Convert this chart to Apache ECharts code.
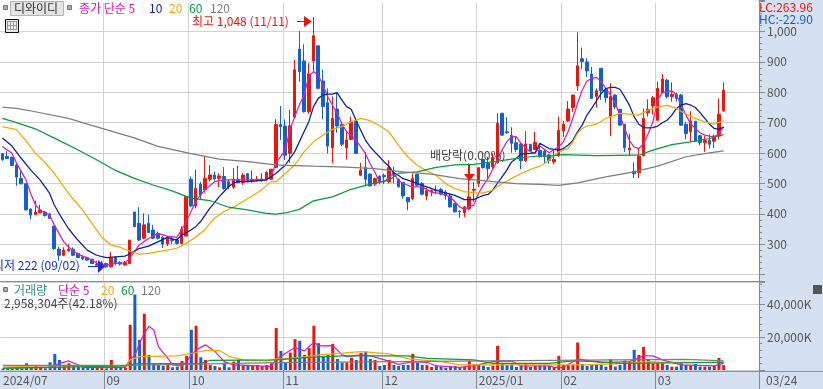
<!DOCTYPE html>
<html><head><meta charset="utf-8">
<style>html,body{margin:0;padding:0;background:#fff}#c{width:823px;height:389px}</style>
<script src="https://cdn.jsdelivr.net/npm/echarts@6/dist/echarts.min.js"></script>
</head><body><div id="c"></div>
<script>
const monthStarts = {0:'2024/07',22:'09',40:'10',60:'11',81:'12',101:'2025/01',119:'02',139:'03'};
const slots = 161;
const opens = [598,589,586,561,517,499,416,398,404,406,400,360,284,264,278,284,270,259,256,251,231,226,237,226,257,240,232,237,406,369,320,369,347,336,323,301,316,314,303,327,514,426,498,479,514,528,517,523,506,488,514,503,532,506,510,509,512,514,553,694,689,599,718,942,903,736,903,953,837,766,618,745,694,618,645,703,527,552,531,498,524,527,505,536,514,503,454,451,530,500,459,472,478,480,472,459,434,409,403,418,478,500,579,566,555,568,731,670,658,634,630,575,629,612,609,607,594,571,591,673,706,750,821,910,900,860,786,879,810,720,791,744,695,610,540,535,591,733,755,708,799,840,786,793,791,695,670,705,657,634,642,639,656,739];
const closes = [578,582,559,521,499,413,396,406,413,395,385,286,264,281,283,264,256,252,248,237,234,239,226,257,237,235,240,314,358,314,364,339,320,320,301,320,312,303,349,457,426,484,462,517,528,515,525,484,490,514,503,528,506,514,514,515,536,547,694,687,593,690,874,868,736,860,986,813,753,623,714,689,629,643,703,599,544,514,492,516,505,522,552,527,489,459,440,516,494,465,476,477,476,465,461,423,407,407,423,456,481,552,552,549,586,698,659,667,632,612,575,630,607,635,590,588,575,579,675,695,745,791,887,901,870,780,805,805,782,786,752,692,618,617,532,590,714,744,782,813,843,785,794,780,692,664,706,639,635,642,629,656,728,807];
const highs = [600,606,589,567,543,501,418,444,430,410,402,360,292,290,300,290,272,263,258,253,246,246,239,276,259,245,245,314,407,422,402,397,364,342,327,327,327,319,360,457,523,545,506,589,561,539,534,554,512,550,558,534,534,543,525,534,540,547,712,755,711,742,907,1002,958,896,1048,953,874,813,786,797,698,674,720,709,568,604,533,519,527,533,577,555,516,505,456,533,533,505,486,480,494,486,478,467,436,412,426,566,505,552,579,588,599,731,731,718,685,656,632,672,629,670,630,610,596,610,720,706,771,791,997,947,912,884,813,879,813,830,794,744,695,664,569,618,747,777,788,835,860,844,833,799,794,703,738,705,659,656,661,661,780,833];
const lows = [575,580,558,492,498,413,382,396,402,391,384,281,246,261,276,261,255,248,246,235,228,224,222,224,232,230,230,235,356,311,317,336,317,316,288,294,301,299,301,326,422,418,446,470,506,510,488,479,481,481,501,495,504,503,506,506,510,512,550,643,577,568,714,835,733,729,868,810,711,599,568,667,623,579,643,597,524,494,491,491,497,498,500,500,487,450,412,445,491,461,445,458,465,461,447,421,404,387,390,412,440,489,549,516,549,566,656,663,601,604,547,571,604,610,585,565,565,563,588,653,703,736,805,877,851,778,749,775,766,656,744,689,604,590,518,518,590,720,727,706,797,780,769,769,689,645,637,637,626,604,615,617,645,736];
const volumes = [810,810,810,1620,1020,4060,1620,3050,2030,1020,4670,9740,6090,3050,4060,3050,2030,1620,1420,1420,1220,1220,1020,6090,2030,1420,1220,27400,45680,18270,34100,9140,4060,3050,2440,4060,1620,2030,5480,8530,24360,26800,7710,6090,3050,2440,1620,4470,1620,5080,6090,3050,2440,3050,3050,2440,3050,4060,25380,11570,4470,10560,18680,17660,9140,13200,26800,16240,8120,9140,15830,6700,4470,4470,7510,6090,10350,11170,6700,6090,2440,3050,6090,3050,2440,3050,3050,9740,4470,3050,3050,1830,2640,2030,1420,2440,2440,1620,1830,5480,3450,3050,2640,1830,2640,14620,4060,3050,3450,1830,3050,4060,1830,2640,2640,2640,2440,1420,8530,3050,3050,3450,16650,3650,2440,3450,3650,3050,2030,6500,2030,3050,5680,5080,12180,9140,14010,6090,4060,4060,4060,3050,2030,2030,4060,3050,2840,3650,2030,2030,2030,2440,7310,2958];
const volumeSides = ['bbbbbbb','rrbbbbrrbbbbbrrbrbbrrbbrbbbbrbbrrbrbrrbrbbrbrbrrrrr','rbbrrbbrrbbbrbbrrbrbbrbbrbbbbrbbrrbbbbbbrrrrbbrrbbbbbrbrbbb','rrrrrrbbbbbbrbbbrbrrrrrrbrbbbrbbrbrrr'].join('');
const ma5 = [[0,622],[2,600],[3,567],[4,540],[5,512],[6,468],[7,430],[8,413],[10,396],[11,364],[13,309],[14,292],[15,279],[16,268],[17,261],[18,256],[20,239],[22,231],[24,237],[26,239],[27,253],[29,297],[30,308],[31,319],[33,336],[35,327],[37,323],[38,347],[39,374],[41,440],[42,462],[43,479],[45,506],[47,512],[51,512],[56,512],[57,523],[58,566],[60,610],[61,676],[62,720],[63,758],[64,791],[65,852],[66,868],[67,857],[68,824],[69,786],[70,758],[71,731],[72,698],[73,670],[74,659],[75,643],[76,621],[77,599],[78,566],[79,538],[80,505],[81,505],[82,522],[83,533],[84,511],[85,500],[87,489],[89,489],[91,472],[93,467],[95,456],[96,440],[97,423],[98,415],[99,423],[100,429],[101,467],[102,494],[103,516],[104,546],[105,577],[106,610],[107,637],[108,654],[109,654],[110,632],[112,604],[113,599],[114,623],[116,601],[118,621],[119,637],[120,670],[121,714],[122,763],[123,807],[124,837],[125,845],[126,849],[127,835],[128,813],[129,791],[130,763],[131,725],[132,681],[133,642],[134,620],[135,615],[136,631],[137,664],[138,703],[139,774],[140,799],[141,802],[142,805],[143,791],[144,758],[145,725],[146,697],[147,681],[148,667],[149,659],[150,656],[151,653],[152,664],[153,686]];
const ma10 = [[0,650],[2,624],[4,583],[6,545],[8,512],[10,468],[11,430],[12,402],[14,352],[16,314],[18,281],[20,264],[22,256],[24,259],[26,261],[27,268],[29,286],[31,294],[33,308],[35,323],[37,314],[38,330],[40,347],[41,358],[42,374],[43,396],[44,418],[45,437],[46,457],[47,473],[48,490],[49,501],[50,506],[52,506],[54,509],[56,512],[58,533],[60,560],[62,604],[64,670],[65,703],[66,753],[67,780],[68,791],[69,794],[70,794],[71,799],[72,775],[73,753],[74,744],[75,709],[76,676],[77,643],[78,621],[79,604],[80,588],[81,571],[82,557],[83,535],[84,527],[85,516],[86,511],[88,500],[90,489],[92,478],[94,469],[96,461],[98,447],[100,447],[101,454],[102,461],[103,464],[104,478],[105,500],[106,522],[107,544],[108,571],[109,582],[110,597],[112,599],[113,601],[114,632],[116,615],[118,610],[119,615],[120,626],[121,642],[122,670],[123,692],[124,725],[125,747],[126,771],[127,796],[128,812],[129,816],[130,816],[131,810],[132,785],[133,758],[134,720],[135,695],[136,684],[137,683],[138,684],[139,689],[140,700],[141,708],[142,725],[143,747],[144,758],[145,763],[146,758],[147,750],[148,733],[149,714],[150,695],[151,681],[152,678],[153,686]];
const ma20 = [[0,687],[3,677],[5,641],[7,600],[9,570],[11,534],[13,490],[15,449],[17,413],[19,369],[21,325],[23,298],[25,290],[27,278],[29,268],[31,270],[33,276],[35,281],[37,287],[39,303],[41,323],[43,349],[45,386],[47,408],[49,422],[51,441],[53,459],[55,479],[57,507],[58,505],[60,533],[62,560],[64,604],[66,637],[68,659],[70,678],[72,687],[74,703],[76,714],[78,707],[80,690],[82,670],[84,626],[86,588],[88,560],[90,542],[92,527],[94,500],[96,483],[98,473],[100,469],[102,469],[104,478],[106,500],[108,516],[110,533],[112,546],[114,557],[115,566],[116,577],[118,604],[119,610],[120,615],[121,637],[122,665],[123,681],[124,689],[126,695],[128,714],[130,725],[131,731],[133,728],[135,725],[137,741],[139,752],[141,757],[143,747],[145,728],[147,714],[149,703],[151,695],[152,701],[153,706]];
const ma60 = [[0,714],[3,700],[7,680],[12,642],[16,611],[20,578],[24,543],[28,517],[32,495],[36,476],[40,452],[44,444],[48,422],[52,413],[56,402],[58,399],[60,403],[63,415],[66,443],[70,456],[74,481],[78,498],[82,511],[84,533],[88,538],[92,553],[96,561],[100,563],[104,571],[108,580],[112,588],[114,591],[116,590],[119,595],[126,592],[135,593],[138,610],[142,628],[146,637],[150,648],[153,661]];
const ma120 = [[0,751],[3,747],[7,736],[14,714],[22,677],[28,650],[33,622],[40,598],[46,580],[52,572],[58,561],[60,560],[66,557],[73,554],[79,549],[85,538],[91,531],[97,516],[103,508],[109,500],[114,497],[118,494],[122,502],[128,522],[134,538],[139,557],[145,588],[150,601],[153,607]];
const volMa5 = [[0,1620],[10,1620],[12,4060],[14,5480],[16,3050],[17,1620],[26,1620],[27,6090],[28,9140],[29,16240],[30,22330],[31,26390],[32,24360],[33,14210],[34,10560],[35,7110],[36,3050],[38,2440],[39,5080],[40,9140],[41,12180],[43,15230],[45,11170],[47,5080],[49,3050],[53,2640],[57,2030],[58,6500],[60,10150],[62,13600],[64,11570],[66,16850],[67,14620],[70,14820],[72,9140],[73,8120],[76,9140],[78,8530],[81,6090],[84,3450],[87,5080],[90,4670],[92,2440],[97,1620],[100,2640],[104,5080],[108,5480],[110,2440],[116,2440],[117,1620],[119,1620],[122,6700],[127,4470],[133,5080],[136,8530],[138,8530],[140,6090],[144,3050],[151,2440],[153,4060]];
const volMa20 = [[0,1620],[7,2440],[26,2440],[27,6090],[29,8120],[37,8530],[40,10150],[43,11770],[46,11770],[48,8120],[51,6090],[56,5480],[58,6700],[61,7110],[66,8530],[67,9140],[72,10150],[76,11170],[82,9740],[86,6700],[93,5080],[97,3050],[109,3050],[123,3050],[130,3650],[137,5080],[141,4670],[153,4670]];
const volMa60 = [[0,1020],[26,2440],[28,3650],[42,4060],[44,5890],[58,6090],[65,7710],[72,8530],[86,8530],[90,7110],[100,6090],[104,4060],[116,4060],[121,5480],[126,5080],[131,4060],[153,4670]];
const volMa120 = [[0,2840],[27,2840],[58,4470],[116,5890],[145,6500],[153,5480]];
const red='#e8170e', blue='#1560cc', grid='#d2d2d2', panel='#d5e1f0', navy='#0a1f9c', magenta='#d91fb8', orange='#f0aa00', green='#0a9a3c', gray='#7d7d7d';
const font='"Noto Sans CJK KR","Noto Sans",sans-serif';
const cats = Array.from({length:slots},(_,i)=>String(i));
const isStart = i => monthStarts[i]!==undefined;
const line=(name,data,color,xi,yi,w)=>({name,type:'line',data,xAxisIndex:xi,yAxisIndex:yi,symbol:'none',silent:true,animation:false,lineStyle:{color,width:w||1.25},z:5});
const candleData = opens.map((o,i)=>[o,closes[i],lows[i],highs[i]]);
const volData = volumes.map((v,i)=>({value:v,itemStyle:{color:volumeSides[i]==='r'?red:blue}}));
const T=(x,y,text,fill,extra)=>({type:'text',x,y,z:20,silent:true,style:Object.assign({text,fill,font:'12px '+font,textVerticalAlign:'middle'},extra||{})});
const R=(x,y,w,h,fill,stroke,z)=>({type:'rect',x,y,z:z===undefined?20:z,silent:true,shape:{x:0,y:0,width:w,height:h},style:{fill,stroke:stroke||null,lineWidth:1}});
const P=(points,fill)=>({type:'polygon',z:21,silent:true,shape:{points},style:{fill}});
const chart = echarts.init(document.getElementById('c'),null,{renderer:'canvas'});
chart.setOption({
 animation:false,backgroundColor:'#fff',
 grid:[{left:0,top:0,width:759,height:281,containLabel:false},{left:0,top:282,width:759,height:88,containLabel:false}],
 xAxis:[
  {type:'category',gridIndex:0,data:cats,boundaryGap:true,axisLine:{show:false},axisTick:{show:false},axisLabel:{show:false},
   splitLine:{show:true,interval:(i)=>isStart(i)&&i>0,lineStyle:{color:grid,width:1}}},
  {type:'category',gridIndex:1,data:cats,boundaryGap:true,axisLine:{show:false},
   axisTick:{show:true,length:19,interval:(i)=>isStart(i)&&i>0,lineStyle:{color:'#8a8a8a'}},
   axisLabel:{show:true,interval:(i)=>isStart(i),formatter:(v)=>monthStarts[v]||'',align:'left',margin:4,fontSize:12,fontFamily:font,color:'#555',hideOverlap:false},
   splitLine:{show:true,interval:(i)=>isStart(i)&&i>0,lineStyle:{color:grid,width:1}}}
 ],
 yAxis:[
  {type:'value',gridIndex:0,position:'right',min:179.3,max:1103.6,splitNumber:9,
   axisLine:{show:true,lineStyle:{color:'#8a8a8a'}},axisTick:{show:true,length:6,lineStyle:{color:'#8a8a8a'}},
   minorTick:{show:true,splitNumber:5,length:3,lineStyle:{color:'#8a8a8a'}},
   axisLabel:{margin:8,fontSize:12,fontFamily:font,color:'#555',showMinLabel:false,showMaxLabel:false,
    formatter:(v)=>(v>=300&&v<=1000&&v%100===0)?v.toLocaleString('en-US'):''},
   splitLine:{show:true,lineStyle:{color:grid}}},
  {type:'value',gridIndex:1,position:'right',min:0,max:53300,interval:20000,
   axisLine:{show:true,lineStyle:{color:'#8a8a8a'}},axisTick:{show:true,length:6,lineStyle:{color:'#8a8a8a'}},
   minorTick:{show:true,splitNumber:5,length:3,lineStyle:{color:'#8a8a8a'}},
   axisLabel:{margin:8,fontSize:12,fontFamily:font,color:'#555',formatter:(v)=>(v===20000||v===40000)?v.toLocaleString('en-US')+'K':''},
   splitLine:{show:true,lineStyle:{color:grid}}}
 ],
 series:[
  {name:'시세',type:'candlestick',data:candleData,xAxisIndex:0,yAxisIndex:0,barWidth:3,silent:true,z:3,
   itemStyle:{color:red,color0:blue,borderColor:red,borderColor0:blue,borderWidth:1}},
  line('단순5',ma5,magenta,0,0),line('단순10',ma10,navy,0,0),line('단순20',ma20,orange,0,0),line('단순60',ma60,green,0,0),line('단순120',ma120,gray,0,0),
  {name:'거래량',type:'bar',data:volData,xAxisIndex:1,yAxisIndex:1,barWidth:3,silent:true,z:3},
  line('거래량5',volMa5,magenta,1,1),line('거래량20',volMa20,orange,1,1),line('거래량60',volMa60,green,1,1),line('거래량120',volMa120,gray,1,1)
 ],
 graphic:{elements:[
  R(759,0,64,389,panel,null,-5),R(0,372,823,17,panel,null,-5),
  R(0,0,758,3,'#fff',null,1),
  R(0,281,759,1,'#8f8f8f',null,10),R(0,371,823,1,'#8f8f8f',null,10),
  R(3.5,5.5,4,4,'#aaa','#777'),R(67.5,5.5,4,4,'#aaa','#777'),
  R(10.5,1.5,53,14,'#e4e4e4','#b5b5b5'),
  T(14,8,'디와이디','#333'),
  T(79,8,'종가 단순 5',magenta),T(149,8,'10',navy),T(169,8,'20',orange),T(189,8,'60',green),T(210,8,'120',gray),
  R(5.5,19.5,13,13,'#e8e8e8','#111'),
  {type:'group',z:21,silent:true,x:7,y:21,children:[R(0,0,10,9,'#9a9a9a'),R(1,1,2,3,'#eee'),R(4,1,2,3,'#eee'),R(7,1,2,3,'#eee'),R(1,5,2,3,'#eee'),R(4,5,2,3,'#eee'),R(7,5,2,3,'#eee')]},
  T(192,21,'최고 1,048 (11/11)',red),
  R(297,21,10,1,red),P([[304,16],[312,21.5],[304,27]],red),
  T(-7,265,'최저 222 (09/02)','#1230e0'),
  R(88,266,10,1,'#1230e0'),P([[98,260],[105,266.5],[98,273]],'#1230e0'),
  T(430,155,'배당락(0.00%)','#444'),
  R(469,164,1,10,red),P([[464,174],[475,174],[469.5,181]],red),
  T(759,7,'LC:263.96',red),T(759,19,'HC:-22.90',blue),
  R(3.5,287.5,4,4,'#aaa','#777'),
  T(14,290,'거래량','#2f8f8f'),T(58,290,'단순 5',magenta),T(101,290,'20',orange),T(121,290,'60',green),T(141,290,'120',gray),
  T(4,303,'2,958,304주(42.18%)','#444'),
  R(813,285,9,9,'#555'),
  T(766,380,'03/24','#555')
 ]}
});
</script></body></html>
